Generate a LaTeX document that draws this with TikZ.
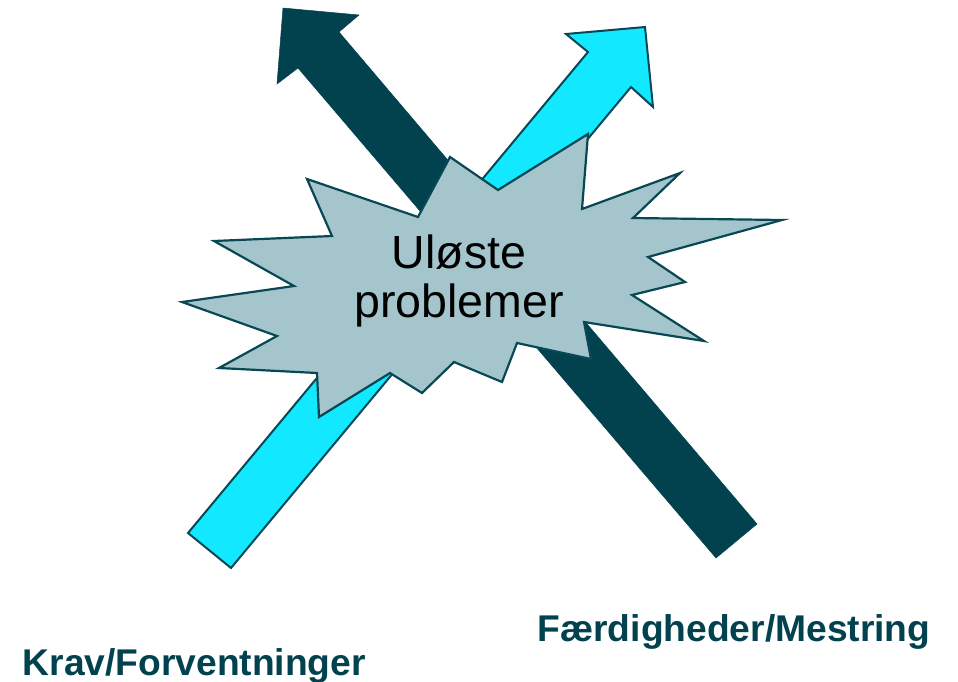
\documentclass[tikz,border=0pt]{standalone}
\usepackage{fontspec}
\setmainfont{Liberation Sans}
\definecolor{darkteal}{RGB}{2,66,78}
\definecolor{cyanarrow}{RGB}{18,232,255}
\definecolor{starfill}{RGB}{165,197,205}
\definecolor{edgeteal}{RGB}{8,72,84}
\tikzset{
  darkarrow/.style={fill=darkteal,draw=darkteal,line width=0.5pt,line join=miter},
  cyanarr/.style={fill=cyanarrow,draw=edgeteal,line width=2pt,line join=miter},
  burst/.style={fill=starfill,draw=edgeteal,line width=2.2pt,line join=miter},
  bigtext/.style={inner sep=0pt,align=center,font=\fontsize{46.5}{49}\selectfont,text=black},
  labeltext/.style={inner sep=0pt,font=\fontsize{37.2}{40}\selectfont\bfseries,text=darkteal}
}
\begin{document}
\begin{tikzpicture}[x=1pt,y=-1pt]
\useasboundingbox (0,0) rectangle (958,681);
% dark arrow (pointing up-left)
\draw[darkarrow] (283,8) -- (359,15) -- (339,32) -- (757,524) -- (716,558) -- (298,68) -- (277,84) -- cycle;
% cyan arrow (pointing up-right)
\draw[cyanarr] (645,27) -- (653,107) -- (631,87) -- (231,568) -- (188,533) -- (588,52) -- (566,34) -- cycle;
% starburst
\draw[burst] (450,157) -- (498,190) -- (588,134) -- (582,209) -- (680,173) -- (633,218)
  -- (782,220) -- (648,257) -- (685,282) -- (632,295) -- (704,341) -- (584,322)
  -- (591,359) -- (517,343) -- (502,382) -- (454,362) -- (422,393) -- (390,373)
  -- (319,417) -- (317,373) -- (219,368) -- (277,336) -- (182,302) -- (294,286)
  -- (214,241) -- (332,236) -- (307,179) -- (418,217) -- cycle;
\node[bigtext,anchor=base] (problems) at (459,317) {Uløste\\problemer};
\node[labeltext,anchor=base west] (krav) at (22.5,675) {Krav/Forventninger};
\node[labeltext,anchor=base west] (faerd) at (537.5,641) {Færdigheder/Mestring};
\end{tikzpicture}
\end{document}
